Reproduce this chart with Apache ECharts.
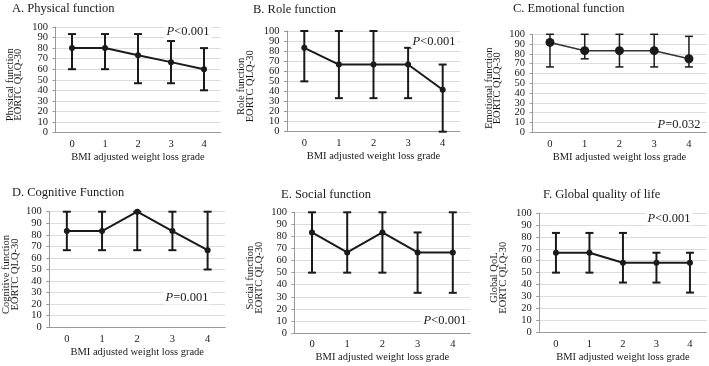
<!DOCTYPE html>
<html>
<head>
<meta charset="utf-8">
<script src="https://cdn.jsdelivr.net/npm/echarts@6/dist/echarts.min.js"></script>
<style>
  html, body { margin: 0; padding: 0; background: #fff; }
  #chart { width: 709px; height: 366px; }
</style>
</head>
<body>
<div id="chart"></div>
<script>
// BMI adjusted weight loss grade
const grades = ['0', '1', '2', '3', '4']
const yTicks = [0, 10, 20, 30, 40, 50, 60, 70, 80, 90, 100]

// medians and IQR (low / high) per domain
const physMed = [80, 80, 73.3, 66.7, 60]
const physLo = [60, 60, 46.7, 46.7, 40]
const physHi = [93.3, 93.3, 93.3, 86.7, 80]

const roleMed = [83.3, 66.7, 66.7, 66.7, 41.7]
const roleLo = [50, 33.3, 33.3, 33.3, 0]
const roleHi = [100, 100, 100, 83.3, 66.7]

const emoMed = [91.7, 83.3, 83.3, 83.3, 75]
const emoLo = [66.7, 75, 66.7, 66.7, 66.7]
const emoHi = [100, 100, 100, 100, 97.9]

const cogMed = [83.3, 83.3, 100, 83.3, 66.7]
const cogLo = [66.7, 66.7, 66.7, 66.7, 50]
const cogHi = [100, 100, 100, 100, 100]

const socMed = [83.3, 66.7, 83.3, 66.7, 66.7]
const socLo = [50, 50, 50, 33.3, 33.3]
const socHi = [100, 100, 100, 83.3, 100]

const qolMed = [66.7, 66.7, 58.3, 58.3, 58.3]
const qolLo = [50, 50, 41.7, 41.7, 33.3]
const qolHi = [83.3, 83.3, 83.3, 66.7, 66.7]

const titles = ['A. Physical function', 'B. Role function', 'C. Emotional function',
  'D. Cognitive Function', 'E. Social function', 'F. Global quality of life']
const yNames = ['Physical function\nEORTC QLQ-30', 'Role function\nEORTC QLQ-30',
  'Emotional function\nEORTC QLQ-30', 'Cognitive function\nEORTC QLQ-30',
  'Social function\nEORTC QLQ-30', 'Global QoL\nEORTC QLQ-30']
const pTexts = ['<0.001', '<0.001', '=0.032', '=0.001', '<0.001', '<0.001']

const medians = [physMed, roleMed, emoMed, cogMed, socMed, qolMed]
const lows = [physLo, roleLo, emoLo, cogLo, socLo, qolLo]
const highs = [physHi, roleHi, emoHi, cogHi, socHi, qolHi]

// layout of each panel (px)
const layout = [
  { left: 55.5, top: 27, width: 165, height: 105.5, tx: 12, ty: 2, px: 188, py: 32, gap: 33 },
  { left: 287, top: 31, width: 173, height: 100.7, tx: 253, ty: 3, px: 434, py: 42, gap: 33 },
  { left: 532.6, top: 34.3, width: 173.7, height: 98, tx: 513, ty: 2, px: 679, py: 125, gap: 31 },
  { left: 47.2, top: 211.7, width: 178, height: 115.6, tx: 12, ty: 186, px: 187, py: 298, gap: 30 },
  { left: 294.4, top: 212.3, width: 176, height: 120.7, tx: 281, ty: 188, px: 445, py: 321, gap: 31 },
  { left: 539.2, top: 213, width: 167.5, height: 119.3, tx: 543, ty: 188, px: 669, py: 219, gap: 32 }
]

const serif = '"Liberation Serif", "Times New Roman", serif'
const ink = '#1a1a1a'

function makeErrorBars(lineWidth) {
  return function (params, api) {
    const x = api.value(0)
    const lo = api.coord([x, api.value(1)])
    const hi = api.coord([x, api.value(2)])
    const w = 4
    const style = { stroke: ink, lineWidth: lineWidth }
    return {
      type: 'group',
      children: [
        { type: 'line', shape: { x1: lo[0], y1: lo[1], x2: hi[0], y2: hi[1] }, style: style },
        { type: 'line', shape: { x1: lo[0] - w, y1: lo[1], x2: lo[0] + w, y2: lo[1] }, style: style },
        { type: 'line', shape: { x1: hi[0] - w, y1: hi[1], x2: hi[0] + w, y2: hi[1] }, style: style }
      ]
    }
  }
}

// y tick labels: echarts v6 drops some of them when they sit 10px apart, so draw them here
function tickLabel(params, api) {
  const p = api.coord([0, api.value(1)])
  return {
    type: 'text',
    x: params.coordSys.x - 7.5,
    y: p[1],
    style: {
      text: String(api.value(1)),
      align: 'right', verticalAlign: 'middle',
      font: '10.5px ' + serif, fill: ink
    }
  }
}

const chart = echarts.init(document.getElementById('chart'))

const grid = [], xAxis = [], yAxis = [], series = [], title = [], graphic = []
layout.forEach((L, i) => {
  const isC = i === 2
  grid.push({ left: L.left, top: L.top, width: L.width, height: L.height })
  title.push({
    text: titles[i], left: L.tx, top: L.ty, padding: 0,
    textStyle: { fontFamily: serif, fontSize: 12.5, fontWeight: 'normal', color: ink }
  })
  xAxis.push({
    type: 'category', gridIndex: i, data: grades,
    name: 'BMI adjusted weight loss grade', nameLocation: 'middle', nameGap: 19,
    nameTextStyle: { fontFamily: serif, fontSize: 10.5, color: ink },
    axisLine: { lineStyle: { color: '#9a9a9a', width: 1 } },
    axisTick: { length: 4, lineStyle: { color: '#9a9a9a' } },
    axisLabel: { fontFamily: serif, fontSize: 10.5, color: ink, margin: 6 },
    splitLine: { show: false }
  })
  yAxis.push({
    type: 'value', gridIndex: i, min: yTicks[0], max: yTicks[yTicks.length - 1], interval: 10,
    name: yNames[i], nameLocation: 'middle', nameRotate: 90, nameGap: L.gap,
    nameTextStyle: { fontFamily: serif, fontSize: 10.5, lineHeight: 8.5, color: ink, padding: [0, 10, 0, 0] },
    axisLine: { show: true, lineStyle: { color: '#9a9a9a', width: 1 } },
    axisTick: { show: true, length: 3, lineStyle: { color: '#9a9a9a' } },
    axisLabel: { show: false },
    splitLine: { lineStyle: { color: '#dcdcdc', width: 1 } }
  })
  series.push({
    type: 'custom', xAxisIndex: i, yAxisIndex: i, silent: true, clip: false,
    renderItem: tickLabel,
    encode: { x: 0, y: 1 },
    data: yTicks.map(v => [0, v])
  })
  series.push({
    type: 'custom', xAxisIndex: i, yAxisIndex: i, z: 2,
    renderItem: makeErrorBars(isC ? 1.5 : 2),
    encode: { x: 0, y: [1, 2] },
    data: grades.map((g, k) => [k, lows[i][k], highs[i][k]])
  })
  series.push({
    type: 'line', xAxisIndex: i, yAxisIndex: i, z: 3,
    data: medians[i],
    symbol: 'circle', symbolSize: isC ? 9 : 6,
    lineStyle: { color: isC ? '#333' : ink, width: isC ? 1.5 : 2 },
    itemStyle: { color: ink },
    animation: false
  })
  graphic.push({
    type: 'text', x: L.px, y: L.py, z: 100,
    style: {
      text: '{i|P}{n|' + pTexts[i] + '}',
      align: 'center', verticalAlign: 'middle',
      backgroundColor: '#fff', padding: [0, 2],
      rich: {
        i: { fontFamily: serif, fontSize: 12.5, fontStyle: 'italic', fill: ink },
        n: { fontFamily: serif, fontSize: 12.5, fill: ink }
      }
    }
  })
})

chart.setOption({
  backgroundColor: '#fff',
  animation: false,
  title, grid, xAxis, yAxis, series, graphic
})
</script>
</body>
</html>
